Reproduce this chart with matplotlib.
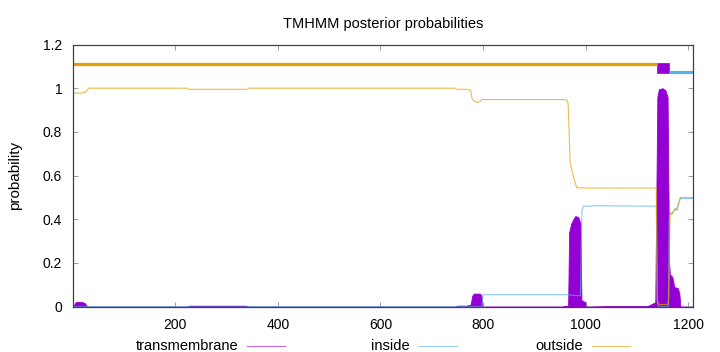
import matplotlib
matplotlib.use("Agg")
import matplotlib.pyplot as plt
from matplotlib.lines import Line2D
from matplotlib.ticker import FormatStrFormatter

plt.rcParams['font.family'] = ['Liberation Sans', 'DejaVu Sans']

# posterior probabilities (residue position, value)
tm_pos = [1, 3, 6, 18, 24, 28, 224, 226, 340, 342, 745, 750, 768, 776, 779, 782, 794, 797, 799,
          955, 958, 966, 968, 972, 976, 980, 986, 990, 992, 1000, 1002, 1040, 1120, 1136,
          1140, 1143, 1150, 1156, 1160, 1163, 1165, 1167, 1170, 1173, 1180, 1183, 1185, 1209]
tm_val = [0.0, 0.01, 0.022, 0.022, 0.015, 0.0, 0.0, 0.004, 0.004, 0.0, 0.0, 0.005, 0.005, 0.01, 0.05, 0.06, 0.06, 0.05, 0.0,
          0.0, 0.003, 0.003, 0.34, 0.38, 0.40, 0.415, 0.41, 0.38, 0.03, 0.02, 0.0, 0.002, 0.002, 0.02,
          0.96, 0.995, 1.0, 0.99, 0.96, 0.2, 0.13, 0.145, 0.13, 0.09, 0.085, 0.06, 0.0, 0.0]

inside_pos = [1, 226, 228, 338, 340, 798, 800, 966, 975, 990, 993, 996, 1010, 1020, 1138, 1140, 1142,
              1162, 1163, 1165, 1168, 1172, 1175, 1178, 1182, 1185, 1209]
inside_val = [0.0, 0.0, 0.003, 0.003, 0.0, 0.0, 0.055, 0.055, 0.052, 0.05, 0.44, 0.46, 0.46, 0.462, 0.46, 0.02, 0.0,
              0.0, 0.4, 0.43, 0.42, 0.44, 0.45, 0.44, 0.47, 0.495, 0.495]

outside_pos = [1, 18, 22, 26, 31, 223, 226, 340, 343, 745, 750, 768, 776, 779, 783, 790, 795, 798,
               955, 964, 966, 968, 970, 974, 978, 983, 1000, 1138, 1140, 1143, 1160, 1162, 1164, 1165,
               1170, 1173, 1178, 1182, 1185, 1209]
outside_val = [0.977, 0.978, 0.98, 0.985, 1.0, 1.0, 0.995, 0.995, 1.0, 1.0, 0.995, 0.995, 0.99, 0.95, 0.94, 0.935, 0.94, 0.948,
               0.948, 0.945, 0.93, 0.8, 0.66, 0.62, 0.58, 0.545, 0.543, 0.543, 0.03, 0.01, 0.01, 0.03, 0.3, 0.43,
               0.43, 0.44, 0.45, 0.48, 0.5, 0.5]

# predicted topology (start, end)
topo_outside = (1, 1140)
topo_tm = (1140, 1163)
topo_inside = (1163, 1209)

c_tm = '#9400d3'
c_in = '#56b4e9'
c_out = '#e69f00'

fig = plt.figure(figsize=(7.2, 3.52), dpi=100)
ax = fig.add_axes([73.3 / 720, 1 - 306.7 / 352, 619.4 / 720, 262.2 / 352])

ax.fill_between(tm_pos, 0, tm_val, color=c_tm, lw=0.6, edgecolor=c_tm)
ax.plot(inside_pos, inside_val, color=c_in, lw=0.8, alpha=0.7)
ax.plot(outside_pos, outside_val, color=c_out, lw=0.8, alpha=0.7)

# topology bars on top
ax.plot(topo_outside, [1.112, 1.112], color=c_out, lw=2.3, solid_capstyle='butt')
ax.fill_between(topo_tm, 1.07, 1.117, color=c_tm, lw=0.5)
ax.plot(topo_inside, [1.073, 1.073], color=c_in, lw=2.3, solid_capstyle='butt')

ax.set_xlim(1, 1209)
ax.set_ylim(0, 1.2)
ax.set_xticks([200, 400, 600, 800, 1000, 1200])
ax.set_yticks([0, 0.2, 0.4, 0.6, 0.8, 1.0, 1.2])
ax.yaxis.set_major_formatter(FormatStrFormatter('%g'))
ax.tick_params(direction='in', length=3.5, width=0.6, color='#909090', labelsize=10,
               top=True, right=True, pad=8)
for s in ax.spines.values():
    s.set_color('#404040')
    s.set_linewidth(0.9)

ax.set_title('TMHMM posterior probabilities', fontsize=10.5, pad=12)
ax.set_ylabel('probability', fontsize=11, labelpad=15)

# legend below the plot, text left of the sample line
leg_y = 1 - 345.5 / 352
for label, col, x_end in [('transmembrane', c_tm, 238), ('inside', c_in, 410), ('outside', c_out, 583)]:
    fig.text(x_end / 720, leg_y, label, ha='right', va='center', fontsize=10.5)
    fig.add_artist(Line2D([(x_end + 9) / 720, (x_end + 47) / 720], [leg_y, leg_y],
                          color=col, lw=0.8, alpha=0.6))

fig.savefig('out.png', dpi=100)
